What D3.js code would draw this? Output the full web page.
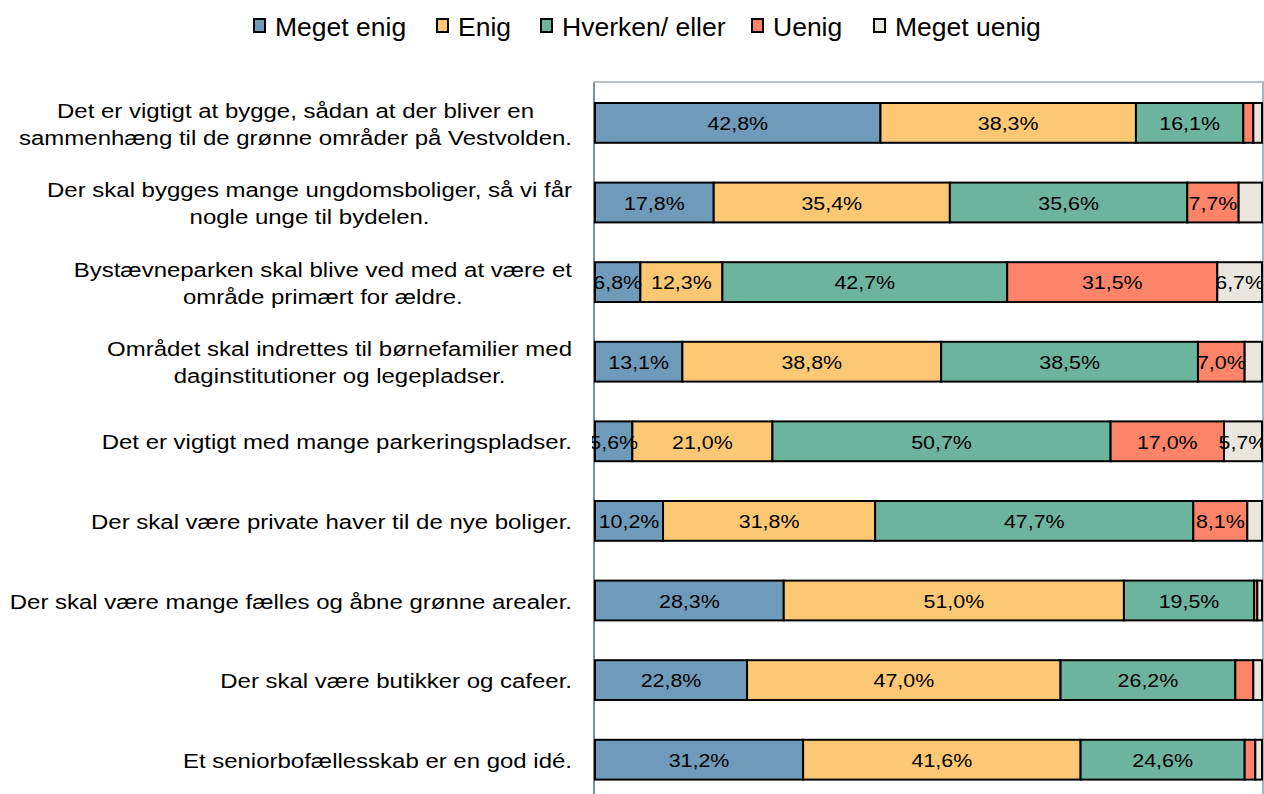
<!DOCTYPE html>
<html><head><meta charset="utf-8">
<script src="https://cdn.jsdelivr.net/npm/d3@7"></script>
<style>body{margin:0;background:#fff}svg{display:block}</style>
</head><body>
<script>
const seriesNames = ["Meget enig","Enig","Hverken/ eller","Uenig","Meget uenig"];
const categories = [
  ["Det er vigtigt at bygge, sådan at der bliver en","sammenhæng til de grønne områder på Vestvolden."],
  ["Der skal bygges mange ungdomsboliger, så vi får","nogle unge til bydelen."],
  ["Bystævneparken skal blive ved med at være et","område primært for ældre."],
  ["Området skal indrettes til børnefamilier med","daginstitutioner og legepladser."],
  ["Det er vigtigt med mange parkeringspladser."],
  ["Der skal være private haver til de nye boliger."],
  ["Der skal være mange fælles og åbne grønne arealer."],
  ["Der skal være butikker og cafeer."],
  ["Et seniorbofællesskab er en god idé."]
];
const megetEnig  = [42.8,17.8, 6.8,13.1, 5.6,10.2,28.3,22.8,31.2];
const enig       = [38.3,35.4,12.3,38.8,21.0,31.8,51.0,47.0,41.6];
const hverken    = [16.1,35.6,42.7,38.5,50.7,47.7,19.5,26.2,24.6];
const uenig      = [ 1.5, 7.7,31.5, 7.0,17.0, 8.1, 0.5, 2.7, 1.6];
const megetUenig = [ 1.3, 3.5, 6.7, 2.6, 5.7, 2.2, 0.7, 1.3, 1.0];
const colors = ["#6f9bbb","#fdc874","#6db49e","#fd8468","#e8e6df"];

const W=1264,H=794;
const svg=d3.select("body").append("svg").attr("width",W).attr("height",H)
  .style("font-family","'Liberation Sans', Arial, sans-serif");

const pLeft=595,pRight=1262,pTop=82,step=79.6;
const bandTop=83.1;
const x=d3.scaleLinear().domain([0,100]).range([pLeft,pRight]);
const y=d3.scaleBand().domain(d3.range(categories.length)).range([bandTop,bandTop+step*categories.length]).paddingInner(0.5).paddingOuter(0.25);

const rows=categories.map((c,i)=>({i,vals:[megetEnig[i],enig[i],hverken[i],uenig[i],megetUenig[i]]}));
const stack=d3.stack().keys(d3.range(5)).value((d,k)=>d.vals[k]);
const layers=stack(rows);

svg.append("clipPath").attr("id","clip").append("rect")
  .attr("x",pLeft-3).attr("y",pTop).attr("width",pRight-pLeft+4).attr("height",H-pTop);

// frame
svg.append("line").attr("x1",594).attr("x2",594).attr("y1",pTop).attr("y2",H).attr("stroke","#7f8e99").attr("stroke-width",2);
svg.append("line").attr("x1",594).attr("x2",1264).attr("y1",pTop).attr("y2",pTop).attr("stroke","#b9c2c8").attr("stroke-width",2);
svg.append("line").attr("x1",1263).attr("x2",1263).attr("y1",pTop).attr("y2",H).attr("stroke","#a9b4bc").attr("stroke-width",2);

const g=svg.append("g").attr("clip-path","url(#clip)");
layers.forEach((layer,k)=>{
  g.selectAll(null).data(layer).join("rect")
    .attr("x",d=>x(d[0])).attr("width",d=>x(d[1])-x(d[0]))
    .attr("y",d=>y(d.data.i)).attr("height",y.bandwidth())
    .attr("fill",colors[k]).attr("stroke","#000").attr("stroke-width",2);
});
layers.forEach((layer,k)=>{
  g.selectAll(null).data(layer.filter(d=>d.data.vals[k]>=5)).join("text")
    .attr("transform",d=>`translate(${(x(d[0])+x(d[1]))/2},${y(d.data.i)+y.bandwidth()/2+1}) scale(1.19,1)`)
    .attr("text-anchor","middle").attr("dominant-baseline","central")
    .attr("font-size",18).attr("fill","#000")
    .text(d=>d.data.vals[k].toFixed(1).replace(".",",")+"%");
});

// category labels (horizontally stretched like the reference)
const labelRight=572, lh=27, sx=1.23;
categories.forEach((lines,i)=>{
  const cy=y(i)+y.bandwidth()/2+1.5;
  const t=svg.append("g").attr("transform",`translate(${labelRight},0) scale(${sx},1)`);
  const texts=lines.map((ln,j)=>t.append("text").attr("font-size",19.5).attr("fill","#000")
    .attr("dominant-baseline","central")
    .attr("y",cy+(j-(lines.length-1)/2)*lh).text(ln));
  const w=d3.max(texts,tx=>tx.node().getComputedTextLength());
  texts.forEach(tx=>tx.attr("x",-w/2).attr("text-anchor","middle"));
});

// legend
const legX=[275,458,562,773,895];
seriesNames.forEach((n,k)=>{
  svg.append("rect").attr("x",legX[k]-21).attr("y",19).attr("width",11).attr("height",13)
    .attr("fill",colors[k]).attr("stroke","#000").attr("stroke-width",2);
  svg.append("text").attr("x",legX[k]).attr("y",27).attr("dominant-baseline","central")
    .attr("font-size",26.5).attr("fill","#000").text(n);
});
</script>
</body></html>
